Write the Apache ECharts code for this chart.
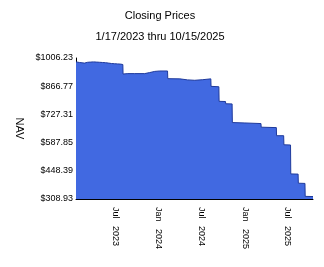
<!DOCTYPE html>
<html>
<head>
<meta charset="utf-8">
<script src="https://cdn.jsdelivr.net/npm/echarts@6/dist/echarts.min.js"></script>
<style>
html,body{margin:0;padding:0;background:#fff;}
#c{width:324px;height:267px;}
</style>
</head>
<body>
<div id="c"></div>
<script>
var titleText = 'Closing Prices';
var subtitleText = '1/17/2023 thru 10/15/2025';
var yName = 'NAV';

var dates = [
  '2023-01-17','2023-02-01','2023-02-09','2023-02-22','2023-03-07','2023-03-19','2023-04-01','2023-04-14',
  '2023-04-27','2023-05-09','2023-05-22','2023-06-04','2023-06-16','2023-06-29','2023-07-12','2023-07-25',
  '2023-08-03','2023-08-04','2023-08-24','2023-09-22','2023-11-03','2023-11-24','2023-12-16','2024-01-06',
  '2024-02-08','2024-02-09','2024-02-17','2024-03-31','2024-05-03','2024-06-02','2024-07-06','2024-08-09',
  '2024-08-10','2024-09-12','2024-09-13','2024-10-10','2024-10-11','2024-11-07','2024-11-08','2024-12-31',
  '2025-03-09','2025-03-10','2025-05-13','2025-05-14','2025-06-13','2025-06-14','2025-07-12','2025-07-13',
  '2025-08-13','2025-08-14','2025-09-11','2025-09-12','2025-10-15'
];
var navs = [
  987,984,980,981,985,986,987,986,
  985,984,983,981,979,978,977,976,
  974,927,929,929,929,934,940,942,
  942,904,904,903,898,896,899,903,
  866,864,792,791,780,779,687,685,
  682,664,662,622,622,577,576,433,
  432,387,386,322,321
];

var startDate = '2023-01-17';
var endDate = '2025-10-15';
var xTickDates = ['2023-07-01','2024-01-01','2024-07-01','2025-01-01','2025-07-01'];
var xTickLabels = ['Jul   2023','Jan   2024','Jul   2024','Jan   2025','Jul   2025'];
var yTicks = [308.93, 448.39, 587.85, 727.31, 866.77, 1006.23];

function ts(s){ return new Date(s + 'T00:00:00Z').getTime(); }

var xTickTs = xTickDates.map(ts);
var labelMap = {};
xTickTs.forEach(function(t,i){ labelMap[t] = xTickLabels[i]; });

var seriesData = dates.map(function(d,i){ return [ts(d), navs[i]]; });

var font = 'Liberation Sans, Arial, sans-serif';
var chart = echarts.init(document.getElementById('c'), null, {renderer:'canvas'});
chart.setOption({
  animation: false,
  backgroundColor: '#ffffff',
  title: [
    {text: titleText, left: 160, top: 10, textAlign: 'center', padding: 0,
     textStyle: {fontSize: 11, fontWeight: 'normal', color: '#000', fontFamily: font, lineHeight: 11}},
    {text: subtitleText, left: 160, top: 31, textAlign: 'center', padding: 0,
     textStyle: {fontSize: 11, fontWeight: 'normal', color: '#000', fontFamily: font, lineHeight: 11}}
  ],
  grid: {left: 76, top: 58, right: 11, bottom: 68, containLabel: false},
  xAxis: {
    type: 'value',
    min: ts(startDate),
    max: ts(endDate),
    splitLine: {show: false},
    axisTick: {show: false},
    axisLine: {show: true, lineStyle: {color: '#000', width: 1}},
    axisLabel: {
      customValues: xTickTs,
      rotate: -90,
      margin: 8,
      fontSize: 9,
      color: '#000',
      fontFamily: font,
      formatter: function(v){ return labelMap[v] || ''; }
    }
  },
  yAxis: {
    type: 'value',
    min: yTicks[0],
    max: yTicks[yTicks.length-1],
    name: yName,
    nameLocation: 'middle',
    nameRotate: -90,
    nameGap: 50,
    nameTextStyle: {fontSize: 11, color: '#000', fontFamily: font},
    splitLine: {show: false},
    axisTick: {show: false},
    axisLine: {show: true, lineStyle: {color: '#000', width: 1}},
    axisLabel: {
      customValues: yTicks,
      margin: 3,
      fontSize: 9,
      color: '#000',
      fontFamily: font,
      formatter: function(v){ return '$' + v.toFixed(2); }
    }
  },
  series: [{
    type: 'line',
    data: seriesData,
    showSymbol: false,
    symbol: 'none',
    lineStyle: {color: '#1f3a9c', width: 1},
    areaStyle: {color: '#4169e1', opacity: 1, origin: 'start'},
    z: 1
  }]
});
</script>
</body>
</html>
